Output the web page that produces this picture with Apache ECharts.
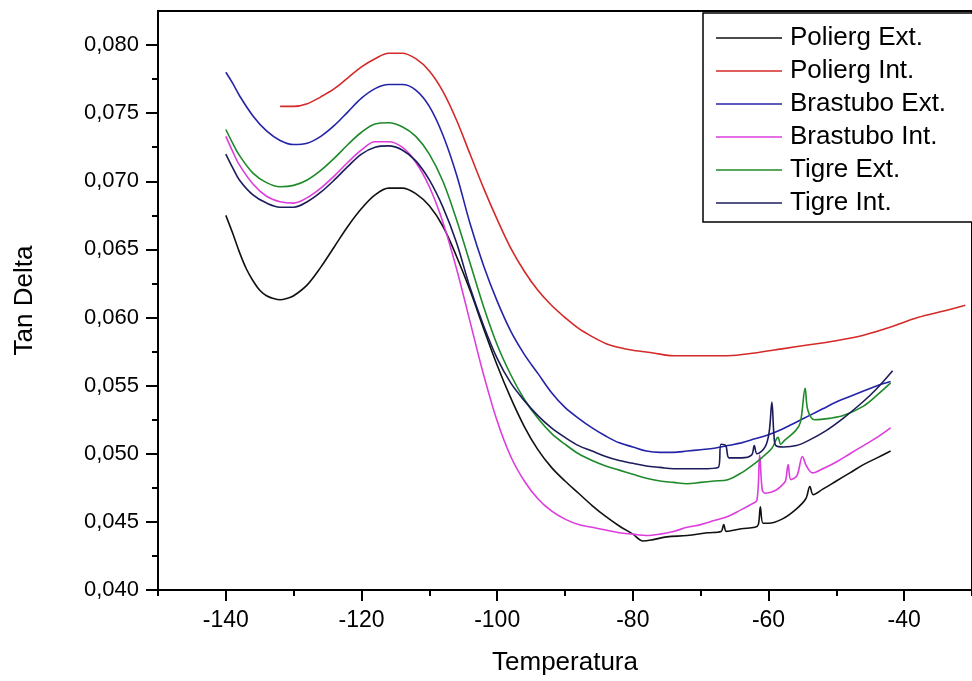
<!DOCTYPE html>
<html>
<head>
<meta charset="utf-8">
<script src="https://cdn.jsdelivr.net/npm/echarts@6/dist/echarts.min.js"></script>
<style>
  html, body { margin: 0; background: #fff; }
  #chart { width: 972px; height: 681px; }
</style>
</head>
<body>
<div id="chart"></div>
<script>
// tick positions
const xTicks = [-140, -120, -100, -80, -60, -40];
const xMinorTicks = [-150, -130, -110, -90, -70, -50, -30];
const yTicks = [0.040, 0.045, 0.050, 0.055, 0.060, 0.065, 0.070, 0.075, 0.080];
const yMinorTicks = [0.0425, 0.0475, 0.0525, 0.0575, 0.0625, 0.0675, 0.0725, 0.0775];

const names = ["Polierg Ext.", "Polierg Int.", "Brastubo Ext.", "Brastubo Int.", "Tigre Ext.", "Tigre Int."];
const colors = ["#111111", "#d42a2a", "#2424a8", "#dd3ddd", "#1f8a2a", "#1c1c5c"];

// [temperatura, tan delta]
const poliergExt = [
  [-140, 0.0675], [-139, 0.0662], [-138, 0.0648], [-137, 0.0636], [-136, 0.0627], [-135, 0.0620],
  [-134, 0.0616], [-133, 0.0614], [-132, 0.0613], [-131, 0.0614], [-130, 0.0616], [-128, 0.0624],
  [-126, 0.0637], [-124, 0.0652], [-122, 0.0667], [-120, 0.0680], [-118, 0.0690], [-116, 0.0695],
  [-114, 0.0695], [-112, 0.0691], [-110, 0.0682], [-108, 0.0667], [-106, 0.0645], [-104, 0.0620],
  [-102, 0.0592], [-100, 0.0565], [-98, 0.0541], [-96, 0.0520], [-94, 0.0503], [-92, 0.0490],
  [-90, 0.0480], [-88, 0.0471], [-86, 0.0462], [-84, 0.0454], [-82, 0.0447], [-80, 0.0441],
  [-78.5, 0.0436], [-77, 0.0437], [-75, 0.0439], [-72, 0.0440], [-69, 0.0442], [-67, 0.0443],
  [-66.6, 0.0448], [-66.2, 0.0443], [-64, 0.0445], [-62, 0.0446], [-61.5, 0.0448], [-61.2, 0.0461],
  [-60.8, 0.0449], [-60, 0.0449], [-58, 0.0452], [-56, 0.0459], [-54.5, 0.0467], [-53.9, 0.0476],
  [-53.4, 0.0470], [-52, 0.0474], [-50, 0.0480], [-48, 0.0486], [-46, 0.0492], [-44, 0.0497],
  [-42, 0.0502]
];

const poliergInt = [
  [-132, 0.0755], [-130, 0.0755], [-128, 0.0757], [-126, 0.0762], [-124, 0.0768], [-122, 0.0776],
  [-120, 0.0784], [-118, 0.0790], [-116, 0.0794], [-114, 0.0794], [-112, 0.0790], [-110, 0.0781],
  [-108, 0.0766], [-106, 0.0745], [-104, 0.0720], [-102, 0.0695], [-100, 0.0672], [-98, 0.0651],
  [-96, 0.0634], [-94, 0.0620], [-92, 0.0609], [-90, 0.0600], [-88, 0.0592], [-86, 0.0586],
  [-84, 0.0581], [-82, 0.0578], [-80, 0.0576], [-77, 0.0574], [-74, 0.0572], [-70, 0.0572],
  [-66, 0.0572], [-62, 0.0574], [-58, 0.0577], [-54, 0.0580], [-50, 0.0583], [-46, 0.0587],
  [-42, 0.0593], [-38, 0.0600], [-34, 0.0605], [-31, 0.0609]
];

const brastuboExt = [
  [-140, 0.0780], [-139, 0.0772], [-138, 0.0763], [-136, 0.0748], [-134, 0.0737], [-132, 0.0730],
  [-130, 0.0727], [-128, 0.0728], [-126, 0.0733], [-124, 0.0741], [-122, 0.0751], [-120, 0.0761],
  [-118, 0.0768], [-116, 0.0771], [-114, 0.0771], [-112, 0.0767], [-110, 0.0755], [-108, 0.0734],
  [-106, 0.0705], [-104, 0.0669], [-102, 0.0638], [-100, 0.0612], [-98, 0.0590], [-96, 0.0573],
  [-94, 0.0559], [-92, 0.0545], [-90, 0.0534], [-88, 0.0526], [-86, 0.0519], [-84, 0.0513],
  [-82, 0.0508], [-80, 0.0505], [-78, 0.0502], [-76, 0.0501], [-74, 0.0501], [-72, 0.0502],
  [-70, 0.0503], [-68, 0.0504], [-66, 0.0506], [-64, 0.0508], [-62, 0.0511], [-60, 0.0514],
  [-58, 0.0518], [-56, 0.0523], [-54, 0.0528], [-52, 0.0533], [-50, 0.0538], [-48, 0.0542],
  [-46, 0.0546], [-44, 0.0550], [-42, 0.0553]
];

const brastuboInt = [
  [-140, 0.0733], [-139, 0.0722], [-138, 0.0712], [-136, 0.0698], [-134, 0.0689], [-132, 0.0685],
  [-130, 0.0684], [-128, 0.0688], [-126, 0.0695], [-124, 0.0704], [-122, 0.0714], [-120, 0.0723],
  [-118, 0.0729], [-116, 0.0729], [-114, 0.0725], [-112, 0.0714], [-110, 0.0696], [-108, 0.0670],
  [-106, 0.0636], [-104, 0.0597], [-102, 0.0558], [-100, 0.0524], [-98, 0.0498], [-96, 0.0480],
  [-94, 0.0467], [-92, 0.0458], [-90, 0.0452], [-88, 0.0448], [-86, 0.0446], [-84, 0.0444],
  [-82, 0.0442], [-80, 0.0441], [-78, 0.0440], [-76, 0.0441], [-74, 0.0443], [-72, 0.0446],
  [-70, 0.0448], [-68, 0.0451], [-66, 0.0454], [-64, 0.0459], [-62.5, 0.0463], [-61.7, 0.0466],
  [-61.3, 0.0499], [-60.9, 0.0473], [-60.4, 0.0471], [-59, 0.0473], [-58, 0.0477], [-57.5, 0.0480],
  [-57.1, 0.0492], [-56.7, 0.0481], [-55.8, 0.0484], [-55.0, 0.0498], [-54.4, 0.0491], [-53.5, 0.0486],
  [-52, 0.0489], [-50, 0.0494], [-48, 0.0500], [-46, 0.0506], [-44, 0.0512], [-42, 0.0519]
];

const tigreExt = [
  [-140, 0.0738], [-139, 0.0728], [-138, 0.0719], [-136, 0.0706], [-134, 0.0699], [-132, 0.0696],
  [-130, 0.0697], [-128, 0.0701], [-126, 0.0708], [-124, 0.0717], [-122, 0.0727], [-120, 0.0736],
  [-118, 0.0742], [-116, 0.0743], [-114, 0.0740], [-112, 0.0733], [-110, 0.0720], [-108, 0.0700],
  [-106, 0.0672], [-104, 0.0640], [-102, 0.0608], [-100, 0.0580], [-98, 0.0558], [-96, 0.0540],
  [-94, 0.0526], [-92, 0.0515], [-90, 0.0507], [-88, 0.0500], [-86, 0.0495], [-84, 0.0491],
  [-82, 0.0488], [-80, 0.0485], [-78, 0.0482], [-76, 0.0480], [-74, 0.0479], [-72, 0.0478],
  [-70, 0.0479], [-68, 0.0480], [-66, 0.0481], [-64, 0.0486], [-62, 0.0493], [-61, 0.0497],
  [-59.5, 0.0504], [-58.6, 0.0512], [-58.2, 0.0507], [-57.6, 0.0510], [-56, 0.0517], [-55.3, 0.0523],
  [-54.6, 0.0548], [-54.2, 0.0532], [-53.2, 0.0525], [-51, 0.0526], [-49, 0.0528], [-46, 0.0535],
  [-44, 0.0543], [-42, 0.0552]
];

const tigreInt = [
  [-140, 0.0720], [-139, 0.0710], [-138, 0.0701], [-136, 0.0690], [-134, 0.0684], [-132, 0.0681],
  [-130, 0.0681], [-128, 0.0685], [-126, 0.0692], [-124, 0.0701], [-122, 0.0711], [-120, 0.0720],
  [-118, 0.0725], [-116, 0.0726], [-114, 0.0723], [-112, 0.0715], [-110, 0.0701], [-108, 0.0681],
  [-106, 0.0655], [-104, 0.0622], [-102, 0.0594], [-100, 0.0570], [-98, 0.0552], [-96, 0.0539],
  [-94, 0.0528], [-92, 0.0519], [-90, 0.0512], [-88, 0.0506], [-86, 0.0502], [-84, 0.0498],
  [-82, 0.0495], [-80, 0.0493], [-78, 0.0491], [-76, 0.0490], [-74, 0.0489], [-72, 0.0489],
  [-70, 0.0489], [-67.4, 0.0490], [-67.0, 0.0507], [-66.3, 0.0506], [-65.8, 0.0497], [-64, 0.0497],
  [-62.5, 0.0499], [-62.1, 0.0506], [-61.7, 0.0500], [-60.5, 0.0505], [-59.9, 0.0516], [-59.5, 0.0538],
  [-59.2, 0.0514], [-58.9, 0.0506], [-57.8, 0.0505], [-55.9, 0.0506], [-54, 0.0510], [-51.5, 0.0517],
  [-49, 0.0526], [-46.1, 0.0538], [-44.2, 0.0547], [-41.7, 0.0561]
];

const seriesData = [poliergExt, poliergInt, brastuboExt, brastuboInt, tigreExt, tigreInt];

const font = "'Liberation Sans', Arial, sans-serif";
const chart = echarts.init(document.getElementById("chart"));

const option = {
  animation: false,
  backgroundColor: "#fff",
  textStyle: { fontFamily: font, color: "#000" },
  grid: {
    left: 158,
    top: 11,
    width: 819,
    height: 579,
    show: true,
    borderColor: "#000",
    borderWidth: 2,
  },
  legend: {
    orient: "vertical",
    left: 703,
    top: 13,
    padding: [12, 80, 6, 13],
    icon: "rect",
    itemWidth: 66,
    itemHeight: 1.6,
    itemGap: 7,
    borderColor: "#000",
    borderWidth: 1.5,
    backgroundColor: "#fff",
    textStyle: { fontSize: 26, color: "#000", fontFamily: font, lineHeight: 26, padding: [0, 0, 0, 3] },
    data: names,
  },
  xAxis: [
    {
      type: "value",
      min: -150,
      max: -30,
      name: "Temperatura",
      nameLocation: "middle",
      nameGap: 60,
      nameTextStyle: { fontSize: 26, color: "#000", fontFamily: font },
      axisLine: { show: true, lineStyle: { color: "#000", width: 2 } },
      axisTick: { customValues: xTicks, length: 11, lineStyle: { color: "#000", width: 2 } },
      axisLabel: { customValues: xTicks, fontSize: 23, margin: 19, color: "#000", fontFamily: font },
      splitLine: { show: false },
    },
    {
      type: "value",
      min: -150,
      max: -30,
      position: "bottom",
      axisLine: { show: false },
      axisTick: { customValues: xMinorTicks, length: 6, lineStyle: { color: "#000", width: 2 } },
      axisLabel: { show: false },
      splitLine: { show: false },
    },
  ],
  yAxis: [
    {
      type: "value",
      min: 0.040,
      max: 0.0825,
      name: "Tan Delta",
      nameLocation: "middle",
      nameGap: 120,
      nameTextStyle: { fontSize: 26, color: "#000", fontFamily: font },
      axisLine: { show: true, lineStyle: { color: "#000", width: 2 } },
      axisTick: { customValues: yTicks, length: 12, lineStyle: { color: "#000", width: 2 } },
      axisLabel: {
        customValues: yTicks,
        fontSize: 22,
        margin: 19,
        color: "#000",
        fontFamily: font,
        formatter: function (v) {
          return v.toFixed(3).replace(".", ",");
        },
      },
      splitLine: { show: false },
    },
    {
      type: "value",
      min: 0.040,
      max: 0.0825,
      position: "left",
      axisLine: { show: false },
      axisTick: { customValues: yMinorTicks, length: 6, lineStyle: { color: "#000", width: 2 } },
      axisLabel: { show: false },
      splitLine: { show: false },
    },
  ],
  series: names.map(function (name, i) {
    return {
      name: name,
      type: "line",
      data: seriesData[i],
      symbol: "none",
      smooth: 0.35,
      lineStyle: { color: colors[i], width: 1.6 },
      itemStyle: { color: colors[i] },
    };
  }),
};

chart.setOption(option);
</script>
</body>
</html>
